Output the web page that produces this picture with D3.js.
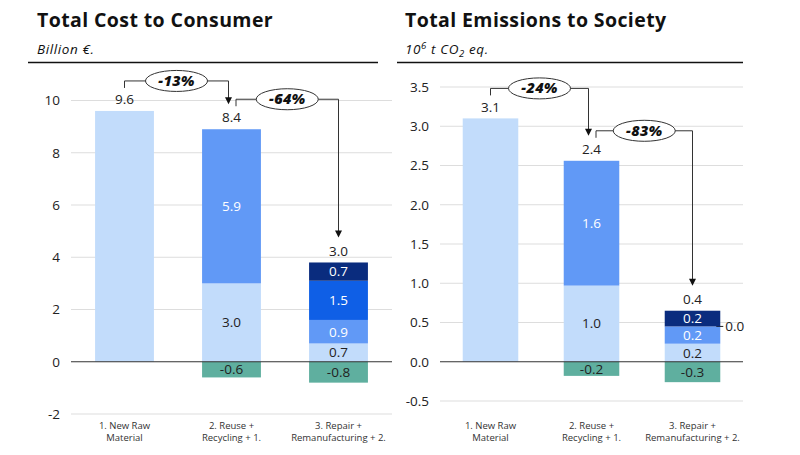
<!DOCTYPE html>
<html><head><meta charset="utf-8">
<script src="https://cdn.jsdelivr.net/npm/d3@7"></script>
<style>
html,body{margin:0;padding:0;background:#fff;}
svg{display:block;font-family:"Open Sans","Noto Sans",sans-serif;}
</style></head>
<body><svg id="c" width="800" height="455"></svg>
<script>
// ---------- data ----------
const categories = [["1. New Raw","Material"],["2. Reuse +","Recycling + 1."],["3. Repair +","Remanufacturing + 2."]];
const seriesNames = ["Base","Recycling","Remanufacturing","Repair","Savings"];
// Total cost to consumer (billion €)
const costBase   = [9.6, 3.0, 0.7];
const costRecyc  = [null, 5.9, 0.9];
const costReman  = [null, null, 1.5];
const costRepair = [null, null, 0.7];
const costNeg    = [null, -0.6, -0.8];
const costTotals = ["9.6","8.4","3.0"];
const costChanges = ["-13%","-64%"];
const costTicks = [-2,0,2,4,6,8,10];
// Total emissions to society (10^6 t CO2 eq.)
const emBase   = [3.1, 0.97, 0.23];
const emRecyc  = [null, 1.59, 0.22];
const emReman  = [null, null, 0.0];
const emRepair = [null, null, 0.2];
const emNeg    = [null, -0.18, -0.26];
const emTotals = ["3.1","2.4","0.4"];
const emChanges = ["-24%","-83%"];
const emTicks = [-0.5,0,0.5,1,1.5,2,2.5,3,3.5];

const colors = ["#c2dcfb","#6199f6","#0f5fe6","#0a2c7e","#5faf9f"];
const labelColors = ["#222","#fff","#fff","#fff","#222"];

const loc = d3.formatLocale({decimal:".",thousands:",",grouping:[3],currency:["",""],minus:"-"});
const f1 = loc.format(".1f"), fd = loc.format("d");
const FS = 13.5;

const svg = d3.select("#c");

function panel(o){
  const g = svg.append("g");
  g.append("text").attr("x",o.tx).attr("y",27).attr("font-size",19.5).attr("font-weight",700)
    .attr("letter-spacing",0.4).attr("fill","#111").text(o.title);
  o.subtitle(g.append("text").attr("x",o.tx).attr("y",54).attr("font-size",13.5)
    .attr("letter-spacing",0.6).attr("font-style","italic").attr("fill","#111"));
  g.append("line").attr("x1",o.lx1).attr("x2",o.lx2).attr("y1",62.5).attr("y2",62.5)
    .attr("stroke","#111").attr("stroke-width",1.3);

  const x = d3.scaleBand().domain(d3.range(3)).range(o.xr).paddingInner(0.45).paddingOuter(0.225);
  const y = d3.scaleLinear().domain(o.yd).range(o.yr);

  g.selectAll(".grid").data(o.ticks.filter(t=>t!==0)).join("line")
    .attr("x1",o.xr[0]).attr("x2",o.xr[1]).attr("y1",d=>y(d)).attr("y2",d=>y(d))
    .attr("stroke","#dddddd").attr("stroke-width",1);
  const ax = d3.axisLeft(y).tickValues(o.ticks).tickSize(0).tickPadding(0).tickFormat(o.fmt);
  const axg = g.append("g").attr("transform",`translate(${o.xr[0]-11},0)`).call(ax);
  axg.select(".domain").remove();
  axg.selectAll("text").attr("font-size",FS).attr("fill","#222").attr("font-family","'Open Sans',sans-serif");

  const series = o.series;
  const bars = g.append("g");
  for(let i=0;i<3;i++){
    let acc = 0;
    for(let s=0;s<4;s++){
      const v = series[s][i];
      if(v===null) continue;
      const y0 = acc, y1 = acc+v; acc = y1;
      bars.append("rect").attr("x",x(i)).attr("width",x.bandwidth())
        .attr("y",y(y1)).attr("height",Math.max(0,y(y0)-y(y1))).attr("fill",colors[s]);
      if(i===0) continue;
      if(v===0){
        const yy = y(y0);
        bars.append("line").attr("x1",x(i)+x.bandwidth()-4).attr("x2",x(i)+x.bandwidth()+3)
          .attr("y1",yy).attr("y2",yy).attr("stroke","#222");
        bars.append("text").attr("x",x(i)+x.bandwidth()+5).attr("y",yy+4.8)
          .attr("font-size",FS).attr("fill","#222").text(f1(v));
      } else {
        bars.append("text").attr("x",x(i)+x.bandwidth()/2).attr("y",(y(y0)+y(y1))/2+4.8)
          .attr("text-anchor","middle").attr("font-size",FS).attr("fill",labelColors[s])
          .text(f1(v));
      }
    }
    const n = series[4][i];
    if(n!==null){
      bars.append("rect").attr("x",x(i)).attr("width",x.bandwidth())
        .attr("y",y(0)).attr("height",y(n)-y(0)).attr("fill",colors[4]);
      bars.append("text").attr("x",x(i)+x.bandwidth()/2).attr("y",(y(0)+y(n))/2+4.8)
        .attr("text-anchor","middle").attr("font-size",FS).attr("fill",labelColors[4])
        .text(f1(n));
    }
  }
  g.append("line").attr("x1",o.xr[0]).attr("x2",o.xr[1]).attr("y1",y(0)).attr("y2",y(0))
    .attr("stroke","#333").attr("stroke-width",1.1);

  const tops = d3.range(3).map(i=>d3.sum(series.slice(0,4),s=>s[i]||0));
  tops.forEach((t,i)=>{
    g.append("text").attr("x",x(i)+x.bandwidth()/2).attr("y",y(t)-6.8)
      .attr("text-anchor","middle").attr("font-size",FS).attr("fill","#222").text(o.totals[i]);
  });

  categories.forEach((c,i)=>{
    const t = g.append("text").attr("text-anchor","middle").attr("font-size",9.5).attr("fill","#333");
    c.forEach((line,k)=>t.append("tspan").attr("x",x(i)+x.bandwidth()/2).attr("y",428.5+k*12.5).text(line));
  });

  for(let i=0;i<2;i++){
    const cx0 = x(i)+x.bandwidth()/2 + (i===0?0:4.5);
    const cx1 = x(i+1)+x.bandwidth()/2 + (i===0?-3:0);
    const ys = y(tops[i]) - 23;
    const yh = ys - 7;
    const ye = y(tops[i+1]) - 25;
    g.append("path").attr("d",`M${cx0},${ys}V${yh}H${cx1}V${ye-6}`)
      .attr("fill","none").attr("stroke","#333").attr("stroke-width",1);
    g.append("path").attr("d",`M${cx1-3.5},${ye-7}L${cx1+3.5},${ye-7}L${cx1},${ye}Z`).attr("fill","#111");
    const ex = (cx0+cx1)/2;
    g.append("ellipse").attr("cx",ex).attr("cy",yh).attr("rx",31).attr("ry",10.5)
      .attr("fill","#fff").attr("stroke","#333").attr("stroke-width",1);
    g.append("text").attr("x",ex).attr("y",yh+5).attr("text-anchor","middle")
      .attr("font-size",14.5).attr("font-weight",800).attr("font-style","italic").attr("fill","#111")
      .attr("letter-spacing",0.3).text(o.changes[i]);
  }
}

panel({
  title:"Total Cost to Consumer", tx:37,
  subtitle:t=>t.text("Billion €."),
  lx1:28, lx2:378, xr:[71,392], yd:[-2,10], yr:[414,100.5],
  ticks:costTicks, fmt:fd,
  series:[costBase,costRecyc,costReman,costRepair,costNeg],
  totals:costTotals, changes:costChanges
});
panel({
  title:"Total Emissions to Society", tx:405,
  subtitle:t=>{
    t.append("tspan").text("10");
    t.append("tspan").attr("dy",-5).attr("font-size",9.5).text("6");
    t.append("tspan").attr("dy",5).text(" t CO");
    t.append("tspan").attr("dy",3).attr("font-size",9.5).text("2");
    t.append("tspan").attr("dy",-3).text(" eq.");
  },
  lx1:397, lx2:743, xr:[440,743], yd:[-0.5,3.5], yr:[401,87],
  ticks:emTicks, fmt:f1,
  series:[emBase,emRecyc,emReman,emRepair,emNeg],
  totals:emTotals, changes:emChanges
});
</script></body></html>
